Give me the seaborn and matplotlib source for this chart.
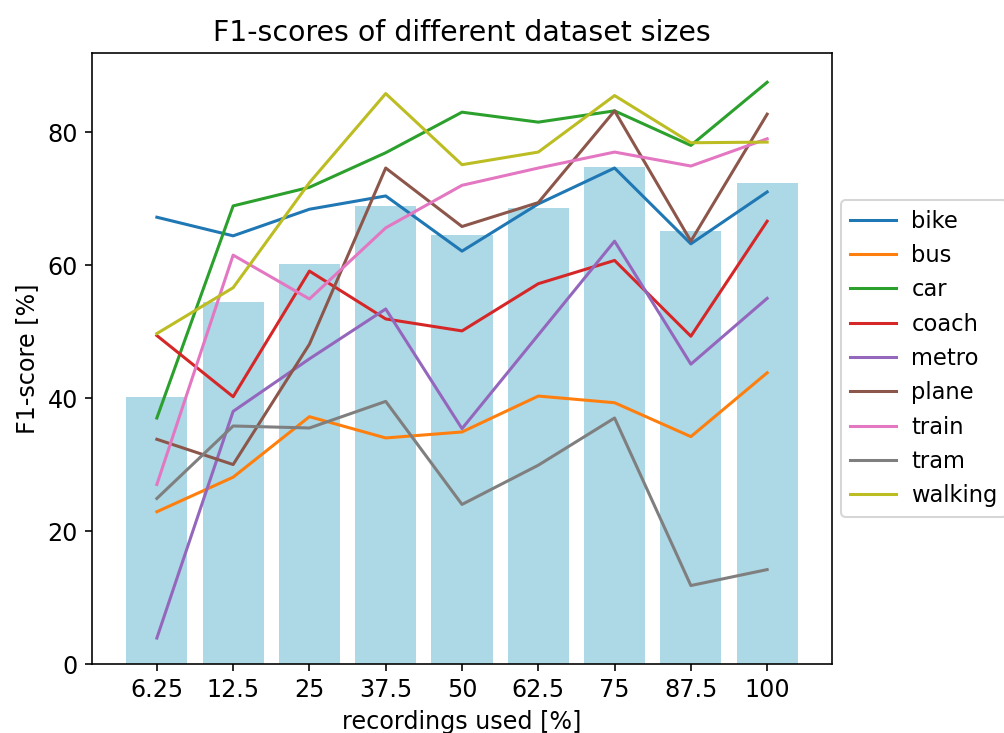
import numpy as np
import pandas as pd
import matplotlib
matplotlib.use("Agg")
import matplotlib.pyplot as plt
import seaborn as sns

# Share of recordings used for training (x categories)
sizes = ["6.25", "12.5", "25", "37.5", "50", "62.5", "75", "87.5", "100"]

# Overall F1-score per dataset size (bars)
overall = [40.2, 54.5, 60.1, 68.9, 64.6, 68.6, 74.8, 65.1, 72.3]

# Per-class F1-scores (lines)
bike    = [67.2, 64.4, 68.4, 70.4, 62.1, 69.2, 74.6, 63.2, 71.0]
bus     = [22.9, 28.1, 37.2, 34.0, 34.9, 40.3, 39.3, 34.2, 43.8]
car     = [37.0, 68.9, 71.7, 76.9, 83.0, 81.5, 83.2, 78.0, 87.5]
coach   = [49.4, 40.2, 59.1, 51.9, 50.1, 57.2, 60.7, 49.3, 66.6]
metro   = [3.9, 38.0, 45.9, 53.4, 35.4, 49.5, 63.6, 45.1, 55.0]
plane   = [33.8, 30.0, 48.1, 74.6, 65.8, 69.4, 83.2, 63.6, 82.7]
train   = [27.0, 61.5, 54.9, 65.6, 72.0, 74.6, 77.0, 74.9, 79.0]
tram    = [24.9, 35.8, 35.5, 39.5, 24.0, 29.9, 37.0, 11.8, 14.2]
walking = [49.7, 56.6, 72.4, 85.8, 75.1, 77.0, 85.5, 78.4, 78.5]

classes = ["bike", "bus", "car", "coach", "metro", "plane", "train", "tram", "walking"]
series = [bike, bus, car, coach, metro, plane, train, tram, walking]

bars_df = pd.DataFrame({"size": sizes, "f1": overall})
lines_df = pd.DataFrame(
    [
        {"pos": i, "f1": v, "mode": name}
        for name, vals in zip(classes, series)
        for i, v in enumerate(vals)
    ]
)

plt.rcParams["font.size"] = 11.8
plt.rcParams["axes.titlesize"] = 14

dpi = 146
fig = plt.figure(figsize=(1004 / dpi, 733 / dpi), dpi=dpi)
ax = fig.add_axes([92 / 1004, 1 - 664 / 733, (832 - 92) / 1004, (664 - 53) / 733])

sns.barplot(data=bars_df, x="size", y="f1", color="lightblue", saturation=1,
            width=0.8, ax=ax, order=sizes)
sns.lineplot(data=lines_df, x="pos", y="f1", hue="mode", hue_order=classes,
             palette="tab10", linewidth=1.5, ax=ax)

ax.set_xticks(range(len(sizes)))
ax.set_xticklabels(sizes)
ax.set_title("F1-scores of different dataset sizes")
ax.set_xlabel("recordings used [%]")
ax.set_ylabel("F1-score [%]")
ax.set_xlim(-0.85, 8.85)
ax.set_ylim(0, 91.9)

sns.move_legend(ax, "center left", bbox_to_anchor=(1, 0.5), title=None,
                fontsize=11.2, handletextpad=0.7, borderaxespad=0.4)

fig.savefig("out.png", dpi=dpi)
